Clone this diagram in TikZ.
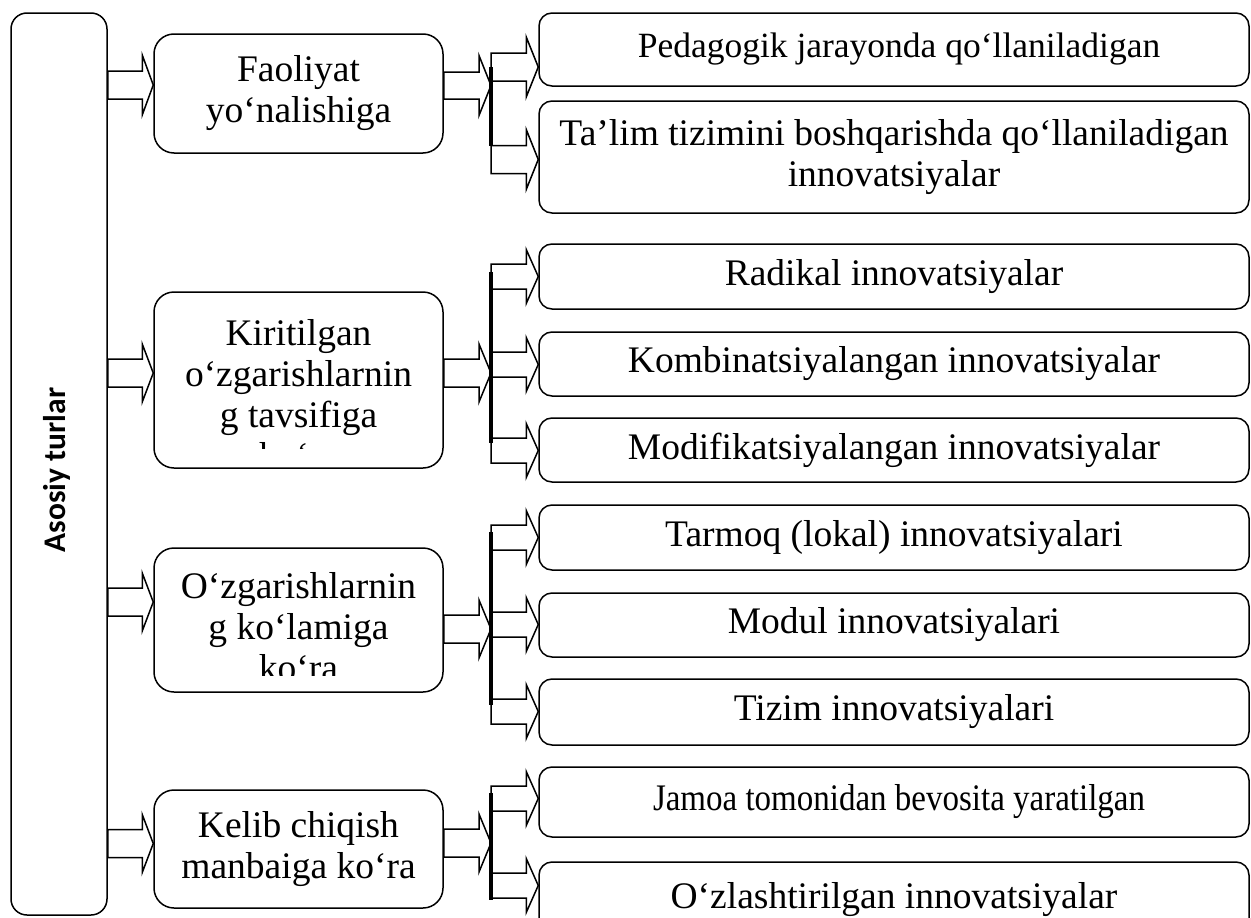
\documentclass[tikz,border=0pt]{standalone}
\usepackage{fontspec}
\usepackage{graphicx}
\setmainfont{Liberation Serif}
\newfontfamily\calibfont{Carlito}
\usetikzlibrary{calc}
\newcommand\blockarrow[5]{%
  \draw[barrow] let \p1=#1, \p2=#2 in
    (\x1,\y1-#3) -- (\x2-#5,\y1-#3) -- (\x2-#5,\y1-#4) -- (\x2,\y1)
    -- (\x2-#5,\y1+#4) -- (\x2-#5,\y1+#3) -- (\x1,\y1+#3) -- cycle;}
\begin{document}
\begin{tikzpicture}[x=1pt,y=-1pt,
  box/.style={draw, line width=1.5pt, rectangle, inner sep=0pt},
  midbox/.style={box, rounded corners=20pt, minimum width=289pt},
  rbox/.style={box, rounded corners=13pt, minimum width=710pt},
  txt/.style={inner sep=0pt, align=center, font=\fontsize{37.5}{41}\selectfont},
  barrow/.style={draw, line width=1.5pt, line join=miter, fill=white},
  bracket/.style={draw, line width=3.8pt}]
\useasboundingbox (0,0) rectangle (1251,918);

% left box
\node[box, rounded corners=16pt, minimum width=96pt, minimum height=902pt] (L) at (59,464) {};
\node[rotate=90, inner sep=0pt, font=\calibfont\bfseries\fontsize{31.5}{36}\selectfont] (Lt) at (57,470) {Asosiy turlar};

% middle boxes
\node[midbox, minimum height=119pt] (M1) at (298.5,93.5) {};
\node[midbox, minimum height=176pt] (M2) at (298.5,380) {};
\node[midbox, minimum height=144pt] (M3) at (298.5,620) {};
\node[midbox, minimum height=118pt] (M4) at (298.5,849) {};

\node[txt] (M1t) at (M1.center) {Faoliyat\\yo‘nalishiga};
\begin{scope}
  \clip (M2.north west) rectangle ($(M2.south east)+(0,-20)$);
  \node[txt, anchor=north] (M2t) at (298.5,319.5) {Kiritilgan\\o‘zgarishlarnin\\g tavsifiga\\ko‘ra};
\end{scope}
\begin{scope}
  \clip (M3.north west) rectangle ($(M3.south east)+(0,-17)$);
  \node[txt, anchor=north] (M3t) at (298.5,572.5) {O‘zgarishlarnin\\g ko‘lamiga\\ko‘ra};
\end{scope}
\node[txt] (M4t) at (M4.center) {Kelib chiqish\\manbaiga ko‘ra};

% right boxes
\node[rbox, minimum height=73pt]  (R1)  at (894,49.5) {};
\node[rbox, minimum height=112pt] (R2)  at (894,157) {};
\node[rbox, minimum height=65pt]  (R3)  at (894,276.5) {};
\node[rbox, minimum height=64pt]  (R4)  at (894,364) {};
\node[rbox, minimum height=64pt]  (R5)  at (894,450) {};
\node[rbox, minimum height=65pt]  (R6)  at (894,537.5) {};
\node[rbox, minimum height=64pt]  (R7)  at (894,625) {};
\node[rbox, minimum height=66pt]  (R8)  at (894,712) {};
\node[rbox, minimum height=70pt]  (R9)  at (894,802) {};
\node[rbox, minimum height=70pt]  (R10) at (894,897) {};

\node[txt, font=\fontsize{35.5}{41}\selectfont] (R1t) at ([xshift=5pt]R1.center) {Pedagogik jarayonda qo‘llaniladigan};
\node[txt] (R2t)  at (R2.center)  {Ta’lim tizimini boshqarishda qo‘llaniladigan\\innovatsiyalar};
\node[txt] (R3t)  at (R3.center)  {Radikal innovatsiyalar};
\node[txt] (R4t)  at (R4.center)  {Kombinatsiyalangan innovatsiyalar};
\node[txt] (R5t)  at (R5.center)  {Modifikatsiyalangan innovatsiyalar};
\node[txt] (R6t)  at (R6.center)  {Tarmoq (lokal) innovatsiyalari};
\node[txt] (R7t)  at (R7.center)  {Modul innovatsiyalari};
\node[txt] (R8t)  at (R8.center)  {Tizim innovatsiyalari};
\node[txt] (R9t)  at ([xshift=5pt]R9.center)  {\resizebox{492pt}{\height}{Jamoa tomonidan bevosita yaratilgan}};
\node[txt] (R10t) at ([yshift=-3pt]R10.center) {O‘zlashtirilgan innovatsiyalar};

% arrows from left box to middle boxes
\blockarrow{(L.east |- 0,85)}{(M1.west)}{14pt}{30pt}{11pt}
\blockarrow{(L.east |- 0,373)}{(M2.west)}{14pt}{29pt}{11pt}
\blockarrow{(L.east |- 0,602)}{(M3.west)}{14pt}{29pt}{11pt}
\blockarrow{(L.east |- 0,843.5)}{(M4.west)}{14pt}{29pt}{11pt}

% bracket coordinates
\coordinate (b1t) at (491,67);   \coordinate (b1b) at (491,146);
\coordinate (b2t) at (491,272);  \coordinate (b2b) at (491,443);
\coordinate (b3t) at (491,532);  \coordinate (b3b) at (491,705);
\coordinate (b4t) at (491,793);  \coordinate (b4b) at (491,900);

% arrows from middle boxes to brackets
\blockarrow{(M1.east |- 0,85.5)}{(b1t)}{13.5pt}{30pt}{12pt}
\blockarrow{(M2.east |- 0,373)}{(b2t)}{14pt}{29pt}{12pt}
\blockarrow{(M3.east |- 0,629)}{(b3t)}{14pt}{29pt}{12pt}
\blockarrow{(M4.east |- 0,843)}{(b4t)}{14pt}{29pt}{12pt}

% arrows from brackets to right boxes
\blockarrow{(b1t |- 0,67)}{(R1.west)}{14pt}{30pt}{12pt}
\blockarrow{(b1t |- 0,159.5)}{(R2.west)}{14pt}{30pt}{12pt}
\blockarrow{(b2t |- 0,276.5)}{(R3.west)}{12.5pt}{27pt}{12pt}
\blockarrow{(b2t |- 0,364.5)}{(R4.west)}{12.5pt}{27pt}{12pt}
\blockarrow{(b2t |- 0,450.5)}{(R5.west)}{12.5pt}{27pt}{12pt}
\blockarrow{(b3t |- 0,537.5)}{(R6.west)}{12.5pt}{27pt}{12pt}
\blockarrow{(b3t |- 0,624.5)}{(R7.west)}{12.5pt}{27pt}{12pt}
\blockarrow{(b3t |- 0,711.5)}{(R8.west)}{12.5pt}{27pt}{12pt}
\blockarrow{(b4t |- 0,798.5)}{(R9.west)}{12.5pt}{27pt}{12pt}
\blockarrow{(b4t |- 0,885.5)}{(R10.west)}{12.5pt}{27pt}{12pt}

% brackets
\draw[bracket] (b1t) -- (b1b);
\draw[bracket] (b2t) -- (b2b);
\draw[bracket] (b3t) -- (b3b);
\draw[bracket] (b4t) -- (b4b);
\end{tikzpicture}
\end{document}
